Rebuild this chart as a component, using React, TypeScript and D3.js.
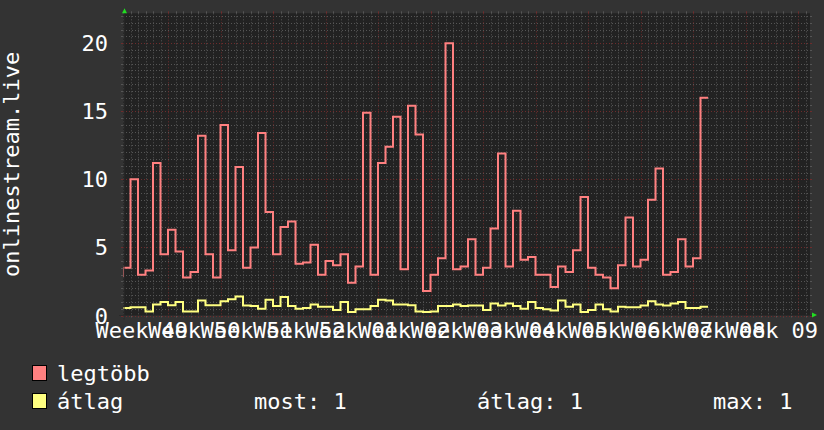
import React, { useEffect } from 'react';
import * as d3 from 'd3';

// ---- data ----
const weekLabels = ['Week 49', 'Week 50', 'Week 51', 'Week 52', 'Week 01', 'Week 02', 'Week 03', 'Week 04', 'Week 05', 'Week 06', 'Week 07', 'Week 08', 'Week 09'];
const yTickValues = [0, 5, 10, 15, 20];
const seriesNames = ['legtöbb', 'átlag'];
const seriesColors = ['#ff8080', '#ffff80'];
const legendStats = ['most: 1', 'átlag: 1', 'max: 1'];
const yTitle = 'onlinestream.live';

// value of the day preceding the visible range (drawn clipped at the left edge)
const prevMax = 2.9;
const prevAvg = 0.55;

// daily "legtöbb" (maximum) values
const maxValues = [
  3.5, 10.0, 3.0, 3.3, 11.2, 4.5, 6.3, 4.7, 2.8, 3.2,
  13.2, 4.5, 2.8, 14.0, 4.8, 10.9, 3.5, 5.0, 13.4, 7.6,
  4.5, 6.5, 6.9, 3.8, 3.9, 5.2, 3.0, 4.0, 3.7, 4.5,
  2.4, 3.6, 14.9, 3.0, 11.2, 12.4, 14.6, 3.4, 15.4, 13.3,
  1.8, 3.0, 4.2, 20.0, 3.4, 3.6, 5.6, 3.0, 3.5, 6.4,
  11.9, 3.6, 7.7, 4.1, 4.3, 3.0, 3.0, 2.1, 3.6, 3.2,
  4.8, 8.7, 3.5, 3.0, 2.8, 2.0, 3.7, 7.2, 3.6, 4.1,
  8.5, 10.8, 3.0, 3.2, 5.6, 3.6, 4.2, 16.0,
];

// daily "átlag" (average) values
const avgValues = [
  0.55, 0.6, 0.6, 0.3, 0.8, 1.0, 0.75, 1.0, 0.3, 0.3,
  1.1, 0.75, 0.75, 1.05, 1.2, 1.4, 0.73, 0.7, 0.5, 1.15,
  0.7, 1.35, 0.7, 0.5, 0.55, 0.8, 0.65, 0.65, 0.4, 1.0,
  0.25, 0.45, 0.45, 0.7, 1.15, 1.1, 0.8, 0.8, 0.75, 0.3,
  0.25, 0.3, 0.7, 0.7, 0.8, 0.7, 0.73, 0.73, 0.4, 0.88,
  0.73, 0.88, 0.7, 0.5, 1.0, 0.55, 0.45, 0.37, 1.1, 0.65,
  0.8, 0.25, 0.4, 0.8, 0.45, 0.3, 0.65, 0.6, 0.6, 0.73,
  1.05, 0.8, 0.73, 0.88, 1.0, 0.55, 0.55, 0.65,
];

// ---- layout ----
const W = 824;
const H = 430;
const X0 = 123;
const X1 = 810;
const Y0 = 315.5;
const Y1 = 13.3;
const SPAN_DAYS = 91.6;
const Y_MAX = 22.2;
const FONT = '"DejaVu Sans Mono", monospace';
const FS = 22;

const x = d3.scaleLinear().domain([0, SPAN_DAYS]).range([X0, X1]);
const y = d3.scaleLinear().domain([0, Y_MAX]).range([Y0, Y1]);

type P = { d: number; v: number };
function toPoints(prev: number, vals: number[]): P[] {
  const pts: P[] = [{ d: -1, v: prev }];
  vals.forEach((v, i) => pts.push({ d: i, v }));
  pts.push({ d: vals.length, v: vals[vals.length - 1] });
  return pts;
}

const line = d3
  .line<P>()
  .x((p) => x(p.d))
  .y((p) => y(p.v))
  .curve(d3.curveStepAfter);

export default function App() {
  useEffect(() => {
    document.body.style.margin = '0';
    document.body.style.background = '#333333';
  }, []);

  const dayTicks = d3.range(0, Math.floor(SPAN_DAYS) + 1);
  const minorX = dayTicks.filter((d) => (d - 6) % 7 !== 0);
  const majorX = dayTicks.filter((d) => (d - 6) % 7 === 0);
  const halfTicks = d3.range(0, Y_MAX, 0.5);
  const minorY = halfTicks.filter((v) => v % 5 !== 0);
  const majorY = yTickValues;

  const minorCol = '#555555';
  const majorCol = '#6e2c2c';
  const dash = '1 2';

  return (
    <svg width={W} height={H} style={{ position: 'absolute', left: 0, top: 0, display: 'block' }}>
      <defs>
        <clipPath id="plotClip">
          <rect x={X0} y={Y1} width={X1 - X0} height={Y0 - Y1} />
        </clipPath>
      </defs>
      <rect x={0} y={0} width={W} height={H} fill="#333333" />
      <rect x={X0} y={Y1} width={X1 - X0} height={Y0 - Y1} fill="#222222" />

      {/* minor grid */}
      {minorY.map((v) => (
        <g key={'my' + v}>
          <line x1={X0} x2={X1} y1={Math.round(y(v)) + 0.5} y2={Math.round(y(v)) + 0.5} stroke={minorCol} strokeDasharray={dash} />
          <line x1={X0 - 2} x2={X0} y1={Math.round(y(v)) + 0.5} y2={Math.round(y(v)) + 0.5} stroke={minorCol} />
          <line x1={X1} x2={X1 + 2} y1={Math.round(y(v)) + 0.5} y2={Math.round(y(v)) + 0.5} stroke={minorCol} />
        </g>
      ))}
      {minorX.map((d) => (
        <g key={'mx' + d}>
          <line x1={Math.round(x(d)) + 0.5} x2={Math.round(x(d)) + 0.5} y1={Y1} y2={Y0} stroke={minorCol} strokeDasharray={dash} />
          <line x1={Math.round(x(d)) + 0.5} x2={Math.round(x(d)) + 0.5} y1={Y1 - 2} y2={Y1} stroke={minorCol} />
          <line x1={Math.round(x(d)) + 0.5} x2={Math.round(x(d)) + 0.5} y1={Y0} y2={Y0 + 2} stroke={minorCol} />
        </g>
      ))}
      {/* major grid */}
      {majorY.map((v) => (
        <g key={'My' + v}>
          <line x1={X0} x2={X1} y1={Math.round(y(v)) + 0.5} y2={Math.round(y(v)) + 0.5} stroke={majorCol} strokeDasharray={dash} />
          <line x1={X0 - 2} x2={X0} y1={Math.round(y(v)) + 0.5} y2={Math.round(y(v)) + 0.5} stroke={majorCol} />
          <line x1={X1} x2={X1 + 2} y1={Math.round(y(v)) + 0.5} y2={Math.round(y(v)) + 0.5} stroke={majorCol} />
        </g>
      ))}
      {majorX.map((d) => (
        <g key={'Mx' + d}>
          <line x1={Math.round(x(d)) + 0.5} x2={Math.round(x(d)) + 0.5} y1={Y1} y2={Y0} stroke={majorCol} strokeDasharray={dash} />
          <line x1={Math.round(x(d)) + 0.5} x2={Math.round(x(d)) + 0.5} y1={Y1 - 2} y2={Y1} stroke={majorCol} />
          <line x1={Math.round(x(d)) + 0.5} x2={Math.round(x(d)) + 0.5} y1={Y0} y2={Y0 + 2} stroke={majorCol} />
        </g>
      ))}

      {/* series */}
      <g clipPath="url(#plotClip)">
        <path d={line(toPoints(prevMax, maxValues)) || ''} fill="none" stroke={seriesColors[0]} strokeWidth={2} />
        <path d={line(toPoints(prevAvg, avgValues)) || ''} fill="none" stroke={seriesColors[1]} strokeWidth={2} />
      </g>

      {/* axes */}
      <line x1={X0 - 4} x2={X1 + 4} y1={Y0} y2={Y0} stroke="#2a2a2a" strokeWidth={1} />
      <line x1={X0 + 1} x2={X0 + 1} y1={Y0 + 4} y2={Y1 - 4} stroke="#2a2a2a" strokeWidth={1} />
      <polygon points={`${X1 + 2},${Y0 - 3} ${X1 + 2},${Y0 + 2} ${X1 + 7},${Y0 - 0.5}`} fill="#22dd22" />
      <polygon points={`${X0 - 1},${Y1} ${X0 + 4},${Y1} ${X0 + 1.5},${Y1 - 5}`} fill="#22dd22" />

      {/* y tick labels */}
      {yTickValues.map((v) => (
        <text key={'yl' + v} x={108} y={y(v) + 8} textAnchor="end" fill="#ffffff" fontFamily={FONT} fontSize={FS}>
          {String(v)}
        </text>
      ))}

      {/* x labels */}
      {weekLabels.map((lab, k) => (
        <text key={'xl' + k} x={x(2.5 + 7 * k)} y={338} textAnchor="middle" fill="#ffffff" fontFamily={FONT} fontSize={FS}>
          {lab}
        </text>
      ))}

      {/* y title */}
      <text transform={`translate(19,${(Y0 + Y1) / 2}) rotate(-90)`} textAnchor="middle" fill="#ffffff" fontFamily={FONT} fontSize={FS}>
        {yTitle}
      </text>

      {/* legend */}
      {seriesNames.map((name, i) => (
        <g key={'lg' + i}>
          <rect x={32.5} y={365.5 + i * 28} width={14} height={15} fill={seriesColors[i]} stroke="#000000" strokeWidth={1} />
          <text x={57} y={381 + i * 28} fill="#ffffff" fontFamily={FONT} fontSize={FS}>
            {name}
          </text>
        </g>
      ))}
      {legendStats.map((s, i) => (
        <text key={'ls' + i} x={[254, 477, 713][i]} y={409} fill="#ffffff" fontFamily={FONT} fontSize={FS}>
          {s}
        </text>
      ))}
    </svg>
  );
}
